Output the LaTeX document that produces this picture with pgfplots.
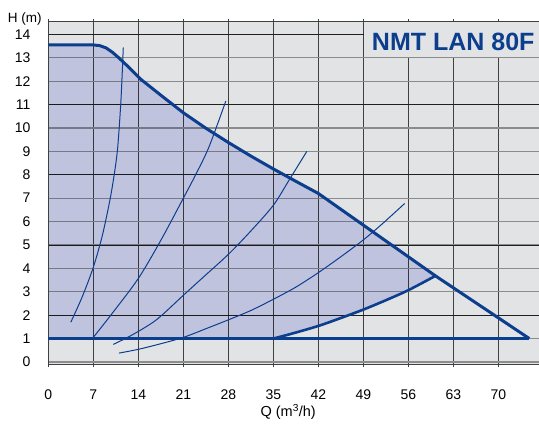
\documentclass[border=0pt]{standalone}
\usepackage{pgfplots}
\pgfplotsset{compat=1.18}
\usepackage{fontspec}
\setmainfont{Liberation Sans}
\definecolor{bgc}{HTML}{E2E3E5}
\definecolor{fillm}{HTML}{D9DCF8}
\definecolor{bluec}{HTML}{0C3E8E}
\definecolor{vgrid}{HTML}{404040}
\definecolor{hgridg}{HTML}{8C8C8C}
\definecolor{hgridk}{HTML}{202020}

\begin{document}
\begin{tikzpicture}
\begin{axis}[
 scale only axis, width=490.7pt, height=342.3pt,
 xmin=0, xmax=76.3, ymin=-0.1, ymax=14.53,
 axis background/.style={fill=bgc},
 axis line style={draw=none},
 xtick={0,7,...,70}, ytick={0,1,...,14},
 /pgf/number format/assume math mode=true,
 ticklabel style={font=\fontsize{14}{16}\selectfont},
 xticklabel style={inner sep=0pt, anchor=north, yshift=-22pt},
 yticklabel style={inner sep=0pt, anchor=east, xshift=-14.7pt},
 tick align=outside, major tick length=3pt,
 xtick style={draw=vgrid, line width=0.9pt},
 ytick style={draw=none},
 xmajorgrids, ymajorgrids,
 x grid style={draw=vgrid, line width=0.9pt},
 y grid style={draw=hgridg, line width=1.1pt},
 extra y ticks={2,5,8,11,14}, extra y tick labels={},
 extra y tick style={ymajorgrids=true, y grid style={draw=hgridk, line width=0.9pt}, ytick style={draw=none}},
 clip=false,
]
\addplot[fill=fillm, draw=none, blend mode=multiply] coordinates {
(0,1) (0,13.55) (7,13.55) (8,13.52) (9,13.42) (10,13.23) (11,12.99) (12.5,12.6)
(14.3,12.1) (17.5,11.4) (21,10.65) (24.5,9.99) (28,9.38) (31.5,8.8) (35,8.25)
(38.5,7.72) (42,7.2) (60.2,3.68) (56,3.07) (52.5,2.64) (49,2.24) (45.5,1.88)
(42,1.54) (38,1.22) (35,1.0)
} -- cycle;

% frame
\draw[vgrid, line width=1pt] (rel axis cs:1,1) -- (rel axis cs:0,1) -- (rel axis cs:0,0) -- (rel axis cs:1,0);

% system curves
\addplot[bluec, line width=1pt, smooth] table {
x y
3.5 1.7
5.3 2.8
7 4.05
8.4 5.4
9.6 6.95
10.3 8.1
10.8 9.2
11.3 11.2
11.66 13.44
};
\addplot[bluec, line width=1pt, smooth] table {
x y
7 1.05
10 2.1
14 3.57
17.5 5.2
21 7.0
23 8.05
25 9.2
27.6 11.15
};
\addplot[bluec, line width=1pt, smooth] table {
x y
10.1 0.75
13 1.15
16.8 1.8
21 2.85
24 3.6
28 4.6
31.5 5.6
35 6.7
37.5 7.8
40.2 9.0
};
\addplot[bluec, line width=1pt, smooth] table {
x y
11 0.38
14 0.54
17.5 0.78
21 1.05
24.5 1.42
28 1.8
31.5 2.2
35 2.68
38.5 3.2
42 3.82
45.5 4.5
49 5.22
52 5.92
55.4 6.77
};

% minimum curve and base line
\addplot[bluec, line width=2.4pt] coordinates {(0,1) (74.8,1)};
\addplot[bluec, line width=2.6pt, smooth] table {
x y
35 1.0
38 1.22
42 1.54
45.5 1.88
49 2.24
52.5 2.64
56 3.07
60.2 3.68
};
% maximum curve
\addplot[bluec, line width=3pt, line join=round] table {
x y
0 13.55
7 13.55
8 13.52
9 13.42
10 13.23
11 12.99
12.5 12.6
14.3 12.1
17.5 11.4
21 10.65
24.5 9.99
28 9.38
31.5 8.8
35 8.25
38.5 7.72
42 7.2
60.2 3.68
74.8 1.0
};

% title box
\fill[bgc] ([xshift=0.5pt,yshift=0.6pt]axis cs:49,13) rectangle ([yshift=-0.5pt]axis cs:76.3,14.53);
\node[anchor=base west, text=bluec, font=\fontsize{25}{25}\selectfont\bfseries, inner sep=0pt] at (axis cs:50.3,13.33) {NMT LAN 80F};

\node[anchor=base west, inner sep=0pt, xshift=-40.5pt, yshift=-0.7pt, font=\fontsize{13.5}{14}\selectfont] at (rel axis cs:0,1) {H (m)};
\node[anchor=base, inner sep=0pt, yshift=-52.2pt, font=\fontsize{14.5}{16}\selectfont] at (axis cs:37.3,-0.1) {Q (m\textsuperscript{3}/h)};
\end{axis}
\pgfresetboundingbox
\path[use as bounding box] ([shift={(-48.3pt,-60.7pt)}]current axis.south west) rectangle ([yshift=22pt]current axis.north east);
\end{tikzpicture}
\end{document}
